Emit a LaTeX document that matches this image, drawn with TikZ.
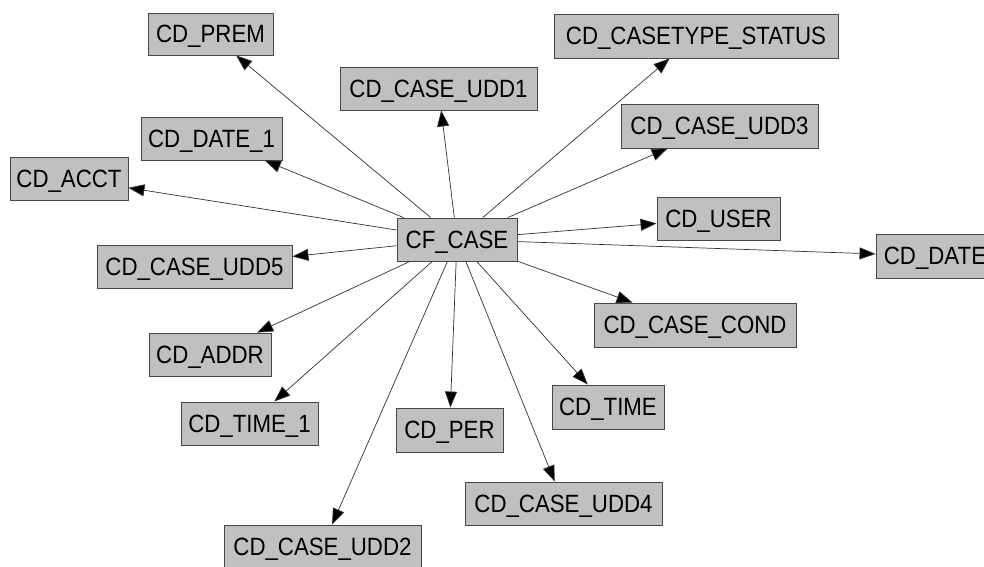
\documentclass[tikz,border=0pt]{standalone}
\usepackage{fontspec}
\setmainfont{Liberation Sans}[FakeStretch=0.89]
\usetikzlibrary{arrows.meta}
\definecolor{boxfill}{RGB}{192,192,192}
\definecolor{boxline}{RGB}{70,70,70}
\definecolor{edgeline}{RGB}{50,50,50}
\begin{document}
\begin{tikzpicture}[x=1pt,y=-1pt,
  tbl/.style={draw=boxline,fill=boxfill,line width=0.9pt,inner sep=0pt,
    minimum height=43pt,text height=17.9pt,text depth=0pt,
    font=\fontsize{25}{25}\selectfont,align=center},
  rel/.style={draw=edgeline,line width=0.7pt,-{Triangle[length=16pt,width=12pt,fill=black]}}]
\useasboundingbox (0,0) rectangle (984,566);
\fill[white] (0,0) rectangle (984,566);
\node[tbl,minimum width=120pt] (cf) at (457,239.5) {CF\_CASE};
\node[tbl,minimum width=125pt,minimum height=42pt] (prem) at (210.5,34) {CD\_PREM};
\node[tbl,minimum width=197pt] (udd1) at (438.5,88.5) {CD\_CASE\_UDD1};
\node[tbl,minimum width=141pt] (date1) at (211.5,138.5) {CD\_DATE\_1};
\node[tbl,minimum width=118pt] (acct) at (69,178.5) {CD\_ACCT};
\node[tbl,minimum width=195pt] (udd5) at (194.5,266.5) {CD\_CASE\_UDD5};
\node[tbl,minimum width=284pt,minimum height=44pt] (cts) at (696,36) {CD\_CASETYPE\_STATUS};
\node[tbl,minimum width=197pt,minimum height=44pt] (udd3) at (719.5,126) {CD\_CASE\_UDD3};
\node[tbl,minimum width=123pt] (user) at (718.5,218.5) {CD\_USER};
\node[tbl,minimum width=118pt,minimum height=44pt] (date) at (935,256) {CD\_DATE};
\node[tbl,minimum width=122pt] (addr) at (210,354.5) {CD\_ADDR};
\node[tbl,minimum width=137pt] (time1) at (249.5,423.5) {CD\_TIME\_1};
\node[tbl,minimum width=107pt,minimum height=44pt] (per) at (449.5,430) {CD\_PER};
\node[tbl,minimum width=197pt] (udd2) at (322.5,546.5) {CD\_CASE\_UDD2};
\node[tbl,minimum width=202pt,minimum height=44pt] (cond) at (695,325) {CD\_CASE\_COND};
\node[tbl,minimum width=112pt,minimum height=44pt] (time) at (608,407) {CD\_TIME};
\node[tbl,minimum width=197pt] (udd4) at (563.5,503.5) {CD\_CASE\_UDD4};
\foreach \t in {prem,udd1,date1,acct,udd5,cts,udd3,user,date,addr,time1,per,udd2,cond,time,udd4}
  \draw[rel] (cf) -- (\t);
\end{tikzpicture}
\end{document}
